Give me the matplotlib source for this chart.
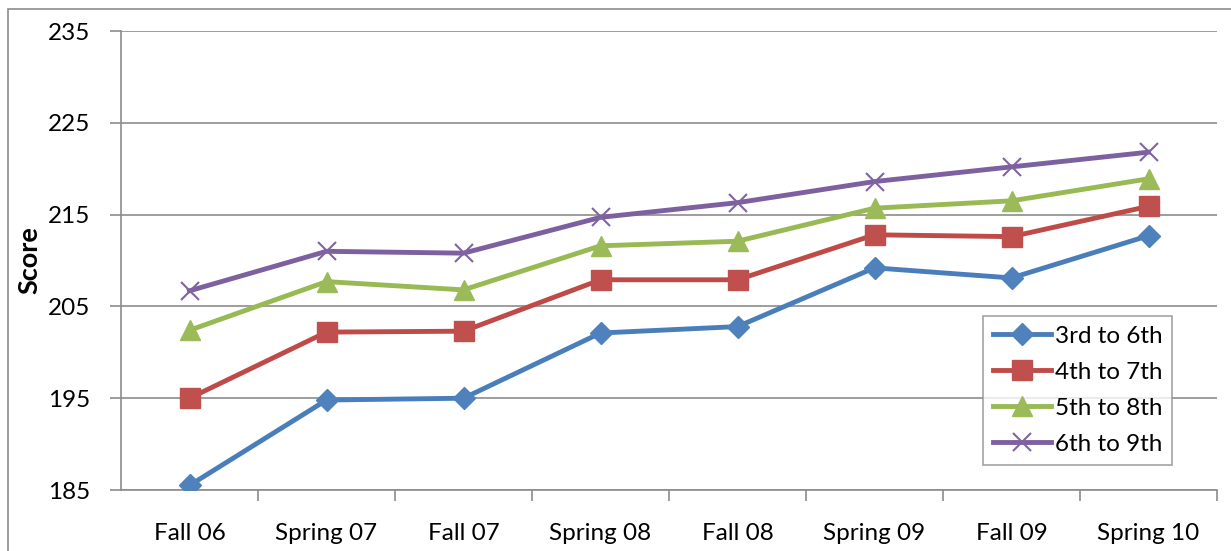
import numpy as np
import matplotlib.pyplot as plt
from matplotlib.patches import Rectangle

periods = ["Fall 06", "Spring 07", "Fall 07", "Spring 08", "Fall 08", "Spring 09", "Fall 09", "Spring 10"]
g3_6 = [185.5, 194.8, 195.0, 202.1, 202.8, 209.2, 208.1, 212.7]
g4_7 = [195.0, 202.2, 202.3, 207.9, 207.9, 212.8, 212.6, 215.9]
g5_8 = [202.4, 207.7, 206.8, 211.6, 212.1, 215.7, 216.5, 218.9]
g6_9 = [206.7, 211.0, 210.8, 214.7, 216.3, 218.6, 220.2, 221.8]
yticks = [185, 195, 205, 215, 225, 235]

plt.rcParams['font.family'] = ['Lato', 'DejaVu Sans']

fig = plt.figure(figsize=(12.31, 5.51), dpi=100)
W, H = 1231, 551
ax = fig.add_axes([121 / W, 1 - 490 / H, (1217 - 121) / W, (490 - 31) / H])

# chart area border
fig.patches.append(Rectangle((8 / W, -0.1), 1.2, 1 - 9 / H + 0.1, transform=fig.transFigure,
                             fill=False, edgecolor='#8c8c8c', linewidth=1.2, zorder=0))

x = np.arange(len(periods))
ax.plot(x, g3_6, color='#4A7EBB', lw=3.5, marker='D', ms=11, mfc='#4F81BD', mec='#4F81BD', label='3rd to 6th', zorder=3)
ax.plot(x, g4_7, color='#BE4B48', lw=3.5, marker='s', ms=14, mfc='#C0504D', mec='#C0504D', label='4th to 7th', zorder=3)
ax.plot(x, g5_8, color='#98B954', lw=3.5, marker='^', ms=14, mfc='#9BBB59', mec='#9BBB59', label='5th to 8th', zorder=3)
ax.plot(x, g6_9, color='#7D60A0', lw=3.5, marker='x', ms=13, mew=1.5, mec='#8064A2', label='6th to 9th', zorder=3)

ax.set_xlim(-0.5, len(periods) - 0.5)
ax.set_ylim(185, 235)
ax.set_yticks(yticks)
ax.set_xticks(x)
ax.set_xticklabels(periods, fontsize=17.5)
ax.set_xticks(np.arange(len(periods)) + 0.5, minor=True)
ax.tick_params(axis='x', which='major', length=0, pad=24)
ax.tick_params(axis='x', which='minor', length=8, color='#8c8c8c', width=1.2)
ax.tick_params(axis='y', length=8, color='#8c8c8c', width=1.2, labelsize=17.5, pad=14)
ax.yaxis.grid(True, color='#8c8c8c', lw=1.2)
ax.set_axisbelow(True)
for s in ['top', 'right']:
    ax.spines[s].set_visible(False)
for s in ['left', 'bottom']:
    ax.spines[s].set_color('#8c8c8c')
    ax.spines[s].set_linewidth(1.2)
ax.set_ylabel('Score', fontsize=19.5, fontweight='bold', labelpad=5)

leg = ax.legend(loc='upper left', bbox_to_anchor=((983 - 121) / 1096, 1 - (316 - 31) / 459),
                fontsize=17.5, frameon=True, fancybox=False, handlelength=2.4, handletextpad=0.15,
                borderpad=0.4, labelspacing=0.62, borderaxespad=0)
leg.get_frame().set_edgecolor('#8c8c8c')
leg.get_frame().set_linewidth(1.2)

fig.savefig('out.png', dpi=100)
